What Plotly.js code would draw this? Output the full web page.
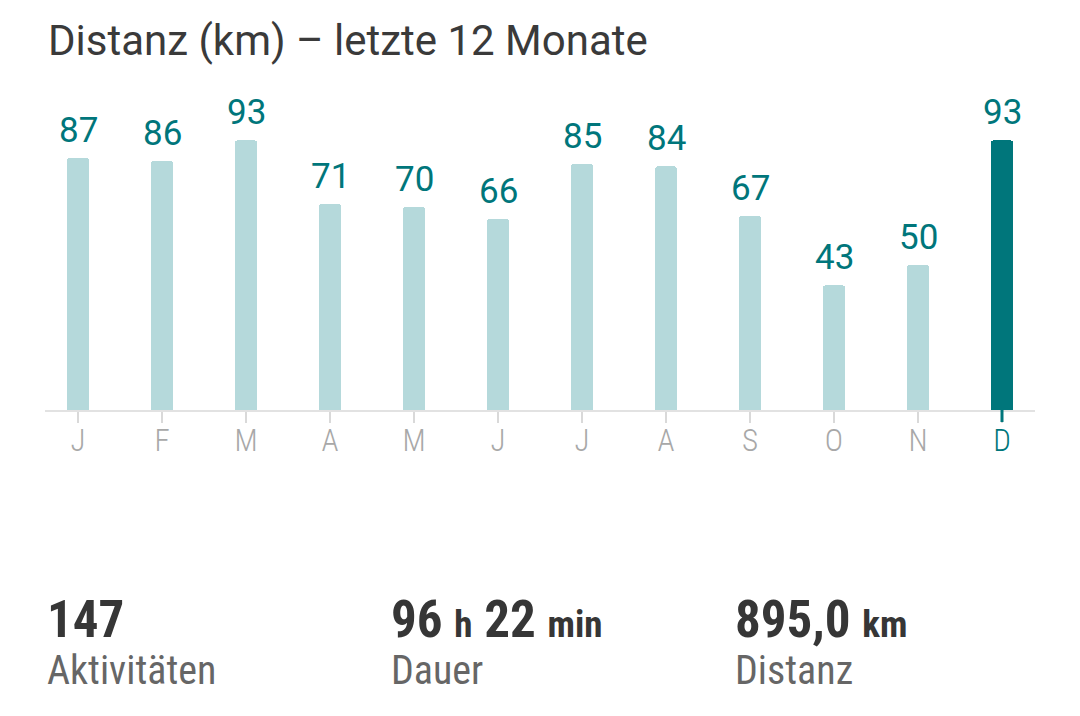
<!DOCTYPE html>
<html><head><meta charset="utf-8">
<script src="https://cdn.plot.ly/plotly-3.0.1.min.js"></script>
<style>html,body{margin:0;padding:0;background:#fff}</style>
</head><body><div id="chart" style="width:1080px;height:716px"></div>
<script>
const chartTitle = 'Distanz (km) – letzte 12 Monate';
const monthLabels = ['J','F','M','A','M','J','J','A','S','O','N','D'];
const distanceKm = [87,86,93,71,70,66,85,84,67,43,50,93];
const highlightIndex = 11;
const statValueParts = [[['147','']], [['96','h'],['22','min']], [['895,0','km']]];
const statLabels = ['Aktivitäten','Dauer','Distanz'];

const TEAL = '#00767b', LIGHT = '#b5d9db';
const W = 1080, H = 716, ML = 45, MR = 45, MT = 100, MB = 306;
const PW = W - ML - MR, PH = H - MT - MB;
const py = p => (H - MB - p) / PH;   // pixel row -> paper y
const px = p => (p - ML) / PW;       // pixel col -> paper x

const xs = monthLabels.map((_, i) => i);
const condensed = "'Roboto Condensed','Liberation Sans Narrow','DejaVu Sans Condensed',Roboto,sans-serif";

const annotations = [];
annotations.push({xref:'paper', yref:'paper', x:px(46), y:py(40.5), xanchor:'left', yanchor:'middle',
  text: chartTitle, showarrow:false, font:{family:'Roboto', size:42, color:'#3a3a3a'}});
distanceKm.forEach((v, i) => annotations.push({xref:'x', yref:'y', x:xs[i], y:v, xanchor:'center', yanchor:'bottom',
  yshift:5, text:String(v), showarrow:false, font:{family:'Roboto', size:35, color:TEAL}}));
const statX = [45, 389, 733];
statValueParts.forEach((parts, i) => {
  const txt = parts.map(([n, u]) => n + (u ? ' <span style="font-size:37px">' + u + '</span>' : '')).join(' ');
  annotations.push({xref:'paper', yref:'paper', x:px(statX[i]), y:py(619), xanchor:'left', yanchor:'middle',
    text: '<b>' + txt + '</b>', showarrow:false, font:{family:condensed, size:51, color:'#363636'}});
  annotations.push({xref:'paper', yref:'paper', x:px(statX[i]), y:py(670), xanchor:'left', yanchor:'middle',
    text: statLabels[i], showarrow:false, font:{family:condensed, size:40, color:'#666666'}});
});

const trace = {
  type:'bar', x: xs, y: distanceKm, width: 0.262,
  marker:{color: distanceKm.map((_, i) => i === highlightIndex ? TEAL : LIGHT), cornerradius: 3, line:{width:0}},
  hoverinfo:'skip'
};

const layout = {
  width: W, height: H, margin:{l:ML, r:MR, t:MT, b:MB, pad:0},
  paper_bgcolor:'#ffffff', plot_bgcolor:'#ffffff', showlegend:false,
  bargap: 0,
  xaxis:{range:[-0.3929, 11.3929], tickmode:'array', tickvals: xs,
    ticktext: monthLabels.map((m, i) => i === highlightIndex ? '<span style="color:' + TEAL + '">' + m + '</span>' : m),
    ticks:'outside', ticklen:11, tickwidth:2, tickcolor:'#d9d9d9', ticklabelstandoff:-9,
    showline:true, linecolor:'#e2e2e2', linewidth:2, showgrid:false, zeroline:false, fixedrange:true,
    tickfont:{family:condensed, size:31, color:'#a8a8a8', weight:300}},
  yaxis:{range:[0, PH / 2.9], visible:false, showgrid:false, zeroline:false, fixedrange:true},
  shapes:[{type:'line', xref:'x', yref:'paper', x0:xs[highlightIndex], x1:xs[highlightIndex], y0:0, y1:-12/PH,
    line:{color:TEAL, width:3}}],
  annotations
};
Plotly.newPlot('chart', [trace], layout, {displayModeBar:false, staticPlot:true});
</script></body></html>
